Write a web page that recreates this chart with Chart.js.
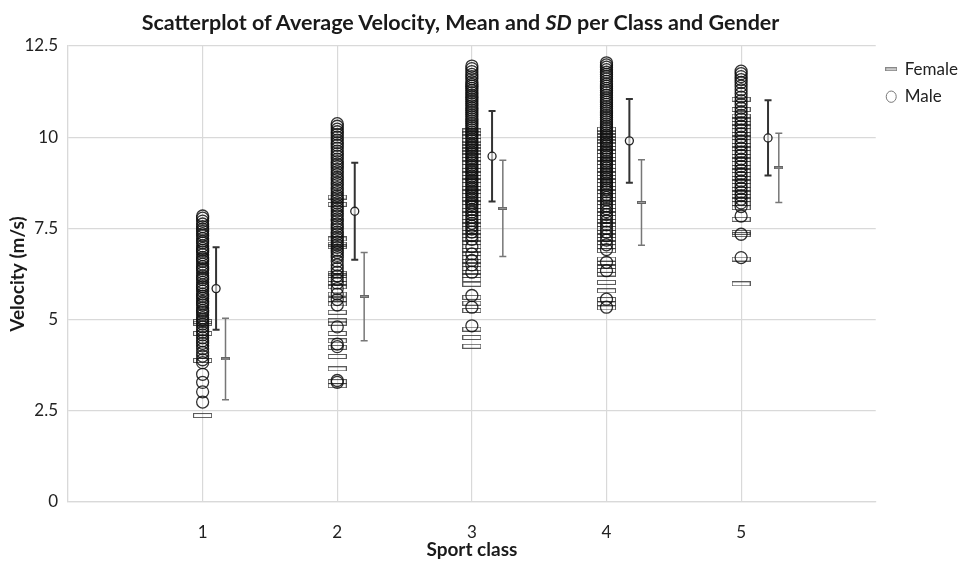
<!DOCTYPE html>
<html>
<head>
<meta charset="utf-8">
<script src="https://cdn.jsdelivr.net/npm/chart.js@4/dist/chart.umd.min.js"></script>
<style>
  body { margin: 0; background: #fff; }
  #wrap { position: relative; width: 971px; height: 563px; }
  #titulo { position: absolute; left: 0; top: 9px; width: 921px; text-align: center;
            font: bold 21.5px Lato, 'Open Sans', sans-serif; color: #1a1a1a; }
</style>
</head>
<body>
<div id="wrap">
  <div id="titulo">Scatterplot of Average Velocity, Mean and <i>SD</i> per Class and Gender</div>
  <canvas id="grafico"></canvas>
</div>
<script>
// classes
const classes = [1, 2, 3, 4, 5];

// raw velocities, per class
const male1 = [7.84, 7.78, 7.7, 7.62, 7.55, 7.48, 7.42, 7.35, 7.3, 7.22, 7.15, 7.1, 7.02, 6.95, 6.9, 6.85, 6.78, 6.7, 6.66, 6.6, 6.52, 6.45, 6.4, 6.35, 6.28, 6.2, 6.15, 6.1, 6.02, 5.95, 5.9, 5.85, 5.78, 5.7, 5.64, 5.58, 5.5, 5.45, 5.4, 5.32, 5.25, 5.2, 5.12, 5.05, 5.0, 4.95, 4.88, 4.8, 4.72, 4.65, 4.58, 4.5, 4.42, 4.35, 4.28, 4.2, 4.1, 4.0, 3.9, 3.82, 3.5, 3.28, 3.02, 2.74];
const male2 = [10.37, 10.3, 10.22, 10.15, 10.08, 10.0, 9.92, 9.85, 9.78, 9.7, 9.62, 9.55, 9.48, 9.4, 9.33, 9.26, 9.2, 9.12, 9.05, 8.98, 8.9, 8.84, 8.76, 8.7, 8.62, 8.55, 8.48, 8.4, 8.34, 8.27, 8.2, 8.12, 8.05, 7.98, 7.9, 7.84, 7.76, 7.7, 7.62, 7.55, 7.48, 7.4, 7.34, 7.26, 7.2, 7.12, 7.05, 6.98, 6.9, 6.84, 6.76, 6.7, 6.6, 6.5, 6.4, 6.3, 6.2, 6.1, 6.0, 5.85, 5.7, 5.55, 5.4, 4.8, 4.33, 4.26, 3.33, 3.28];
const male3 = [11.95, 11.88, 11.8, 11.72, 11.66, 11.6, 11.52, 11.45, 11.4, 11.34, 11.28, 11.22, 11.15, 11.1, 11.04, 10.98, 10.92, 10.86, 10.8, 10.74, 10.68, 10.62, 10.56, 10.5, 10.44, 10.38, 10.32, 10.26, 10.2, 10.14, 10.08, 10.02, 9.96, 9.9, 9.84, 9.78, 9.72, 9.66, 9.6, 9.54, 9.48, 9.42, 9.36, 9.3, 9.24, 9.18, 9.12, 9.06, 9.0, 8.94, 8.88, 8.82, 8.76, 8.7, 8.64, 8.58, 8.52, 8.46, 8.4, 8.34, 8.28, 8.22, 8.16, 8.1, 8.02, 7.95, 7.88, 7.8, 7.72, 7.64, 7.56, 7.48, 7.4, 7.3, 7.2, 7.0, 6.8, 6.62, 6.5, 6.3, 5.66, 5.34, 4.83];
const male4 = [12.04, 11.98, 11.92, 11.85, 11.78, 11.72, 11.66, 11.6, 11.53, 11.46, 11.4, 11.34, 11.28, 11.22, 11.15, 11.08, 11.02, 10.96, 10.9, 10.84, 10.78, 10.72, 10.66, 10.6, 10.54, 10.48, 10.42, 10.36, 10.3, 10.24, 10.18, 10.12, 10.06, 10.0, 9.94, 9.88, 9.82, 9.76, 9.7, 9.64, 9.58, 9.52, 9.46, 9.4, 9.34, 9.28, 9.22, 9.16, 9.1, 9.04, 8.98, 8.92, 8.86, 8.8, 8.74, 8.68, 8.62, 8.56, 8.5, 8.42, 8.35, 8.28, 8.2, 8.12, 8.04, 7.96, 7.88, 7.8, 7.7, 7.6, 7.5, 7.4, 7.3, 7.18, 7.05, 6.92, 6.57, 6.34, 5.56, 5.34];
const male5 = [11.81, 11.74, 11.66, 11.58, 11.5, 11.4, 11.3, 11.2, 11.1, 11.0, 10.9, 10.8, 10.7, 10.6, 10.5, 10.4, 10.3, 10.2, 10.1, 10.0, 9.9, 9.8, 9.7, 9.6, 9.5, 9.4, 9.3, 9.2, 9.1, 9.0, 8.9, 8.8, 8.7, 8.6, 8.5, 8.4, 8.3, 8.2, 8.1, 7.84, 7.34, 6.7];
const female1 = [4.95, 4.9, 4.62, 3.88, 2.37];
const female2 = [8.36, 8.16, 7.21, 7.07, 7.0, 6.27, 6.2, 6.1, 6.0, 5.9, 5.7, 5.55, 5.43, 5.2, 4.97, 4.9, 4.62, 4.42, 4.24, 3.99, 3.65, 3.3, 3.19];
const female3 = [10.17, 10.1, 10.02, 9.92, 9.84, 9.75, 9.66, 9.58, 9.5, 9.4, 9.3, 9.2, 9.1, 9.0, 8.9, 8.8, 8.7, 8.6, 8.5, 8.4, 8.3, 8.2, 8.1, 8.0, 7.9, 7.8, 7.7, 7.6, 7.5, 7.4, 7.3, 7.2, 7.1, 7.0, 6.9, 6.8, 6.7, 6.6, 6.5, 6.4, 6.3, 6.2, 6.1, 5.97, 5.61, 5.45, 5.25, 4.74, 4.51, 4.27];
const female4 = [10.22, 10.14, 10.05, 9.96, 9.88, 9.8, 9.7, 9.6, 9.5, 9.4, 9.3, 9.2, 9.1, 9.0, 8.9, 8.8, 8.7, 8.6, 8.5, 8.4, 8.3, 8.2, 8.1, 8.0, 7.9, 7.8, 7.7, 7.6, 7.5, 7.4, 7.3, 7.2, 7.1, 7.0, 6.89, 6.66, 6.55, 6.45, 6.35, 6.25, 6.02, 5.79, 5.55, 5.43, 5.32];
const female5 = [11.04, 10.76, 10.58, 10.48, 10.38, 10.28, 10.18, 10.08, 9.98, 9.88, 9.78, 9.68, 9.58, 9.48, 9.38, 9.28, 9.18, 9.08, 8.98, 8.88, 8.78, 8.68, 8.58, 8.48, 8.38, 8.28, 8.18, 8.07, 7.75, 7.39, 7.33, 6.66, 5.98];

// means and SD per class (markers sit a little right of each class)
const maleMeanX = [1.1, 2.13, 3.15, 4.17, 5.2];
const maleMean = [5.85, 7.97, 9.48, 9.9, 9.98];
const maleSd = [1.13, 1.33, 1.24, 1.15, 1.03];
const femaleMeanX = [1.17, 2.2, 3.23, 4.26, 5.28];
const femaleMean = [3.92, 5.63, 8.05, 8.21, 9.16];
const femaleSd = [1.12, 1.21, 1.32, 1.17, 0.95];

const yTicks = [0, 2.5, 5, 7.5, 10, 12.5];

const maleRaw = [male1, male2, male3, male4, male5];
const femaleRaw = [female1, female2, female3, female4, female5];

function pontos(listas) {
    let pts = [];
    listas.forEach((vals, i) => {
        vals.forEach(v => pts.push({ x: classes[i], y: v }));
    });
    return pts;
}

// small rectangle used as the female marker
function retangulo(w, h, cor, fill) {
    const c = document.createElement('canvas');
    c.width = w; c.height = h;
    const g = c.getContext('2d');
    if (fill) { g.fillStyle = fill; g.fillRect(0, 0, w, h); }
    g.strokeStyle = cor;
    g.lineWidth = 1;
    g.strokeRect(0.5, 0.5, w - 1, h - 1);
    return c;
}

const marcaFem = retangulo(19, 5, 'rgba(50,50,50,0.8)');
const marcaFemMedia = retangulo(9, 3, '#666', '#999');
const marcaFemLegenda = retangulo(12, 4, '#888', '#ccc');

const errorBars = {
    id: 'errorBars',
    beforeDatasetsDraw(chart) {
        const { ctx, scales: { x, y } } = chart;
        function desenha(xs, medias, sds, cor, lw) {
            ctx.save();
            ctx.strokeStyle = cor;
            ctx.lineWidth = lw;
            xs.forEach((xv, i) => {
                const px = x.getPixelForValue(xv);
                const top = y.getPixelForValue(medias[i] + sds[i]);
                const bot = y.getPixelForValue(medias[i] - sds[i]);
                ctx.beginPath();
                ctx.moveTo(px, top); ctx.lineTo(px, bot);
                ctx.moveTo(px - 3.5, top); ctx.lineTo(px + 3.5, top);
                ctx.moveTo(px - 3.5, bot); ctx.lineTo(px + 3.5, bot);
                ctx.stroke();
            });
            ctx.restore();
        }
        desenha(femaleMeanX, femaleMean, femaleSd, '#777', 1.5);
        desenha(maleMeanX, maleMean, maleSd, '#333', 2);
    }
};

const fonte = "Lato, 'Open Sans', sans-serif";

new Chart(document.getElementById('grafico'), {
    type: 'scatter',
    data: {
        datasets: [
            {
                label: 'Female',
                data: pontos(femaleRaw),
                pointStyle: marcaFem,
                order: 3
            },
            {
                label: 'Male',
                data: pontos(maleRaw),
                pointStyle: 'circle',
                pointRadius: 6,
                borderWidth: 1.3,
                borderColor: 'rgba(15,15,15,0.85)',
                backgroundColor: 'rgba(0,0,0,0)',
                order: 2
            },
            {
                label: 'femaleMean',
                data: femaleMeanX.map((xv, i) => ({ x: xv, y: femaleMean[i] })),
                pointStyle: marcaFemMedia,
                order: 1
            },
            {
                label: 'maleMean',
                data: maleMeanX.map((xv, i) => ({ x: xv, y: maleMean[i] })),
                pointStyle: 'circle',
                pointRadius: 4,
                borderWidth: 1.3,
                borderColor: '#222',
                backgroundColor: 'rgba(255,255,255,0.6)',
                order: 0
            }
        ]
    },
    options: {
        responsive: true,
        maintainAspectRatio: false,
        animation: false,
        events: [],
        layout: { padding: { top: 46, right: 3, bottom: 0, left: 0 } },
        plugins: {
            title: { display: false },
            tooltip: { enabled: false },
            legend: {
                position: 'right',
                align: 'start',
                title: { display: true, text: ' ', font: { size: 1 }, padding: 1.5 },
                labels: {
                    usePointStyle: true,
                    boxHeight: 8,
                    pointStyleWidth: 10,
                    color: '#222',
                    font: { family: fonte, size: 17 },
                    padding: 10.5,
                    generateLabels: (chart) => [
                        { text: 'Female', pointStyle: marcaFemLegenda, datasetIndex: 0, fontColor: '#222', lineWidth: 0 },
                        { text: 'Male', pointStyle: 'circle', datasetIndex: 1, fontColor: '#222', strokeStyle: '#777', fillStyle: '#fff', lineWidth: 1 }
                    ]
                }
            }
        },
        scales: {
            x: {
                type: 'linear',
                min: 0,
                max: 6,
                afterFit: s => { s.height = 61; },
                ticks: {
                    stepSize: 1,
                    padding: 20,
                    color: '#222',
                    font: { family: fonte, size: 17 },
                    callback: v => (v >= 1 && v <= 5) ? v : ''
                },
                grid: {
                    drawTicks: false,
                    color: ctx => ctx.tick && ctx.tick.value === 6 ? 'rgba(0,0,0,0)' : '#d9d9d9',
                    lineWidth: 1.2
                },
                border: { color: '#d9d9d9', width: 1.2 },
                title: {
                    display: true,
                    text: 'Sport class',
                    color: '#1a1a1a',
                    font: { family: fonte, size: 19, weight: 'bold' },
                    padding: { top: 0, bottom: 2 }
                }
            },
            y: {
                min: 0,
                max: 12.5,
                afterFit: s => { s.width = 68; },
                afterBuildTicks: s => { s.ticks = yTicks.map(v => ({ value: v })); },
                ticks: {
                    padding: 10,
                    color: '#222',
                    font: { family: fonte, size: 17 }
                },
                grid: {
                    drawTicks: false,
                    color: '#d9d9d9',
                    lineWidth: 1.2
                },
                border: { color: '#d9d9d9', width: 1.2 },
                title: {
                    display: true,
                    text: 'Velocity (m/s)',
                    color: '#1a1a1a',
                    font: { family: fonte, size: 19, weight: 'bold' },
                    padding: { top: 6, bottom: 0 }
                }
            }
        }
    },
    plugins: [errorBars]
});

document.getElementById('grafico').parentNode.style.height = '563px';
</script>
</body>
</html>
